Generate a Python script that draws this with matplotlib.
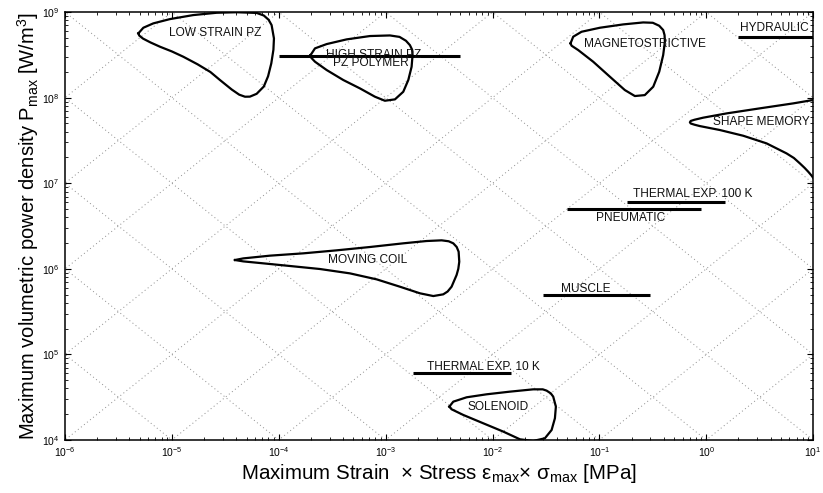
import numpy as np
import matplotlib
matplotlib.use('Agg')
import matplotlib.pyplot as plt

plt.rcParams['font.family'] = ['Liberation Sans', 'DejaVu Sans']
plt.rcParams['mathtext.fontset'] = 'custom'
plt.rcParams['mathtext.rm'] = 'Liberation Sans'
plt.rcParams['mathtext.it'] = 'Liberation Sans:italic'
plt.rcParams['mathtext.bf'] = 'Liberation Sans:bold'

# ---- closed regions, stored as log10(strain*stress [MPa]) and log10(power density [W/m^3]) ----
low_pz_lx = [-5.314, -5.267, -5.174, -5.018, -4.800, -4.581, -4.394, -4.207, -4.140, -4.095, -4.067, -4.045,
             -4.050, -4.070, -4.100, -4.140, -4.207, -4.270, -4.316, -4.370, -4.440, -4.550, -4.640, -4.760,
             -4.893, -5.000, -5.111, -5.200, -5.270, -5.305]
low_pz_ly = [8.751, 8.817, 8.868, 8.918, 8.965, 8.992, 8.998, 8.990, 8.960, 8.910, 8.848, 8.692,
             8.560, 8.400, 8.250, 8.130, 8.045, 8.012, 8.011, 8.035, 8.095, 8.206, 8.300, 8.390,
             8.478, 8.540, 8.595, 8.645, 8.690, 8.725]

high_pz_lx = [-3.702, -3.661, -3.552, -3.365, -3.147, -2.960, -2.870, -2.810, -2.773, -2.752, -2.748, -2.757,
              -2.788, -2.835, -2.913, -3.007, -3.100, -3.240, -3.396, -3.552, -3.661, -3.695]
high_pz_ly = [8.498, 8.576, 8.626, 8.681, 8.720, 8.727, 8.710, 8.665, 8.614, 8.560, 8.498, 8.361,
              8.206, 8.069, 7.980, 7.964, 8.011, 8.108, 8.206, 8.323, 8.420, 8.465]

magneto_lx = [-1.270, -1.245, -1.167, -0.995, -0.777, -0.590, -0.500, -0.440, -0.403, -0.390, -0.387, -0.403,
              -0.440, -0.496, -0.575, -0.668, -0.762, -0.902, -1.058, -1.198, -1.260]
magneto_ly = [8.634, 8.712, 8.770, 8.817, 8.856, 8.879, 8.875, 8.840, 8.790, 8.730, 8.653, 8.498,
              8.303, 8.128, 8.030, 8.019, 8.089, 8.245, 8.420, 8.556, 8.607]

coil_lx = [-4.410, -4.332, -4.082, -3.770, -3.459, -3.147, -2.835, -2.617, -2.476, -2.410, -2.367, -2.335,
           -2.317, -2.311, -2.320, -2.336, -2.383, -2.420, -2.461, -2.554, -2.679, -2.866, -3.084, -3.334,
           -3.615, -3.926, -4.176, -4.332]
coil_ly = [6.103, 6.122, 6.154, 6.181, 6.216, 6.255, 6.298, 6.325, 6.333, 6.322, 6.298, 6.255,
           6.200, 6.083, 6.000, 5.928, 5.791, 5.735, 5.702, 5.682, 5.714, 5.791, 5.877, 5.947,
           5.998, 6.037, 6.068, 6.087]

solenoid_lx = [-2.404, -2.367, -2.242, -2.055, -1.837, -1.619, -1.530, -1.494, -1.455, -1.432, -1.407,
               -1.416, -1.447, -1.510, -1.619, -1.743, -1.899, -2.086, -2.274, -2.383]
solenoid_ly = [4.390, 4.448, 4.499, 4.534, 4.565, 4.592, 4.592, 4.577, 4.545, 4.507, 4.390,
               4.254, 4.117, 4.020, 3.989, 4.008, 4.098, 4.195, 4.293, 4.359]

# open region (runs off the right edge of the chart)
sma_lx = [1.020, 0.813, 0.501, 0.190, -0.029, -0.110, -0.145, -0.153, -0.145, -0.110, -0.060, 0.127,
          0.346, 0.564, 0.751, 0.820, 0.876, 0.920, 0.954, 0.985, 1.020]
sma_ly = [7.977, 7.933, 7.875, 7.816, 7.766, 7.742, 7.728, 7.712, 7.698, 7.684, 7.668, 7.622,
          7.555, 7.466, 7.349, 7.295, 7.232, 7.180, 7.135, 7.090, 7.030]

regions = [(low_pz_lx, low_pz_ly, True), (high_pz_lx, high_pz_ly, True),
           (magneto_lx, magneto_ly, True), (coil_lx, coil_ly, True),
           (solenoid_lx, solenoid_ly, True), (sma_lx, sma_ly, False)]

# ---- horizontal bands: (x start, x end, power density) ----
band_names = ['HYDRAULIC', 'HIGH STRAIN PZ', 'THERMAL EXP. 100 K', 'PNEUMATIC', 'MUSCLE', 'THERMAL EXP. 10 K']
band_x0 = [2.0, 1.0e-4, 0.18, 0.05, 0.03, 1.8e-3]
band_x1 = [10.0, 5.0e-3, 1.5, 0.9, 0.3, 1.5e-2]
band_y = [5.1e8, 3.1e8, 6.0e6, 5.0e6, 5.0e5, 6.0e4]

# ---- labels (x, y, horizontal alignment) ----
label_text = ['LOW STRAIN PZ', 'HIGH STRAIN PZ', 'PZ POLYMER', 'MAGNETOSTRICTIVE', 'HYDRAULIC',
              'SHAPE MEMORY', 'THERMAL EXP. 100 K', 'PNEUMATIC', 'MOVING COIL', 'MUSCLE',
              'THERMAL EXP. 10 K', 'SOLENOID']
label_x = [2.53e-5, 7.8e-4, 7.3e-4, 0.269, 2.06, 1.15, 0.741, 0.196, 6.73e-4, 0.0745, 8.2e-3, 0.0113]
label_y = [5.64e8, 3.15e8, 2.52e8, 4.2e8, 6.46e8, 5.14e7, 7.48e6, 3.95e6, 1.27e6, 5.81e5, 7.2e4, 2.45e4]
label_ha = ['center', 'center', 'center', 'center', 'left', 'left', 'center', 'center', 'center',
            'center', 'center', 'center']

fig = plt.figure(figsize=(8.23, 4.93), dpi=100)
ax = fig.add_axes([0.079, 0.1075, 0.909, 0.868])
ax.set_xscale('log')
ax.set_yscale('log')
ax.set_xlim(1e-6, 1e1)
ax.set_ylim(1e4, 1e9)

# diagonal guide lines of constant P/(eps*sigma) and P*(eps*sigma)
gx = np.array([-7.0, 2.0])
for c in range(2, 17):
    ax.plot(10 ** gx, 10 ** (gx + c), color='0.55', lw=0.7, ls=(0, (1, 3)), zorder=1)
for c in range(-3, 12):
    ax.plot(10 ** gx, 10 ** (c - gx), color='0.55', lw=0.7, ls=(0, (1, 3)), zorder=1)

for lx, ly, closed in regions:
    lx = list(lx)
    ly = list(ly)
    if closed:
        lx = lx + lx[:1]
        ly = ly + ly[:1]
    ax.plot(10 ** np.array(lx), 10 ** np.array(ly), color='black', lw=1.6, zorder=3,
            solid_joinstyle='round')

for x0, x1, y in zip(band_x0, band_x1, band_y):
    ax.plot([x0, x1], [y, y], color='black', lw=2.2, zorder=3, solid_capstyle='butt')

for t, x, y, ha in zip(label_text, label_x, label_y, label_ha):
    ax.text(x, y, t, ha=ha, va='center', fontsize=8.6, color='#111111', zorder=4)

ax.tick_params(which='both', direction='in', top=True, right=True, labelsize=7.5)
ax.tick_params(which='major', length=4.5, width=0.8, pad=4)
ax.tick_params(which='minor', length=2.5, width=0.6)
for s in ax.spines.values():
    s.set_linewidth(1.1)

ax.set_xlabel('Maximum Strain  \u00d7 Stress \u03b5$_{\\rm max}$\u00d7 \u03c3$_{\\rm max}$ [MPa]',
              fontsize=14.8, labelpad=2)
ax.set_ylabel('Maximum volumetric power density P$_{\\rm max}$ [W/m$^3$]', fontsize=14.5, labelpad=1)

fig.savefig('out.png', dpi=100)
